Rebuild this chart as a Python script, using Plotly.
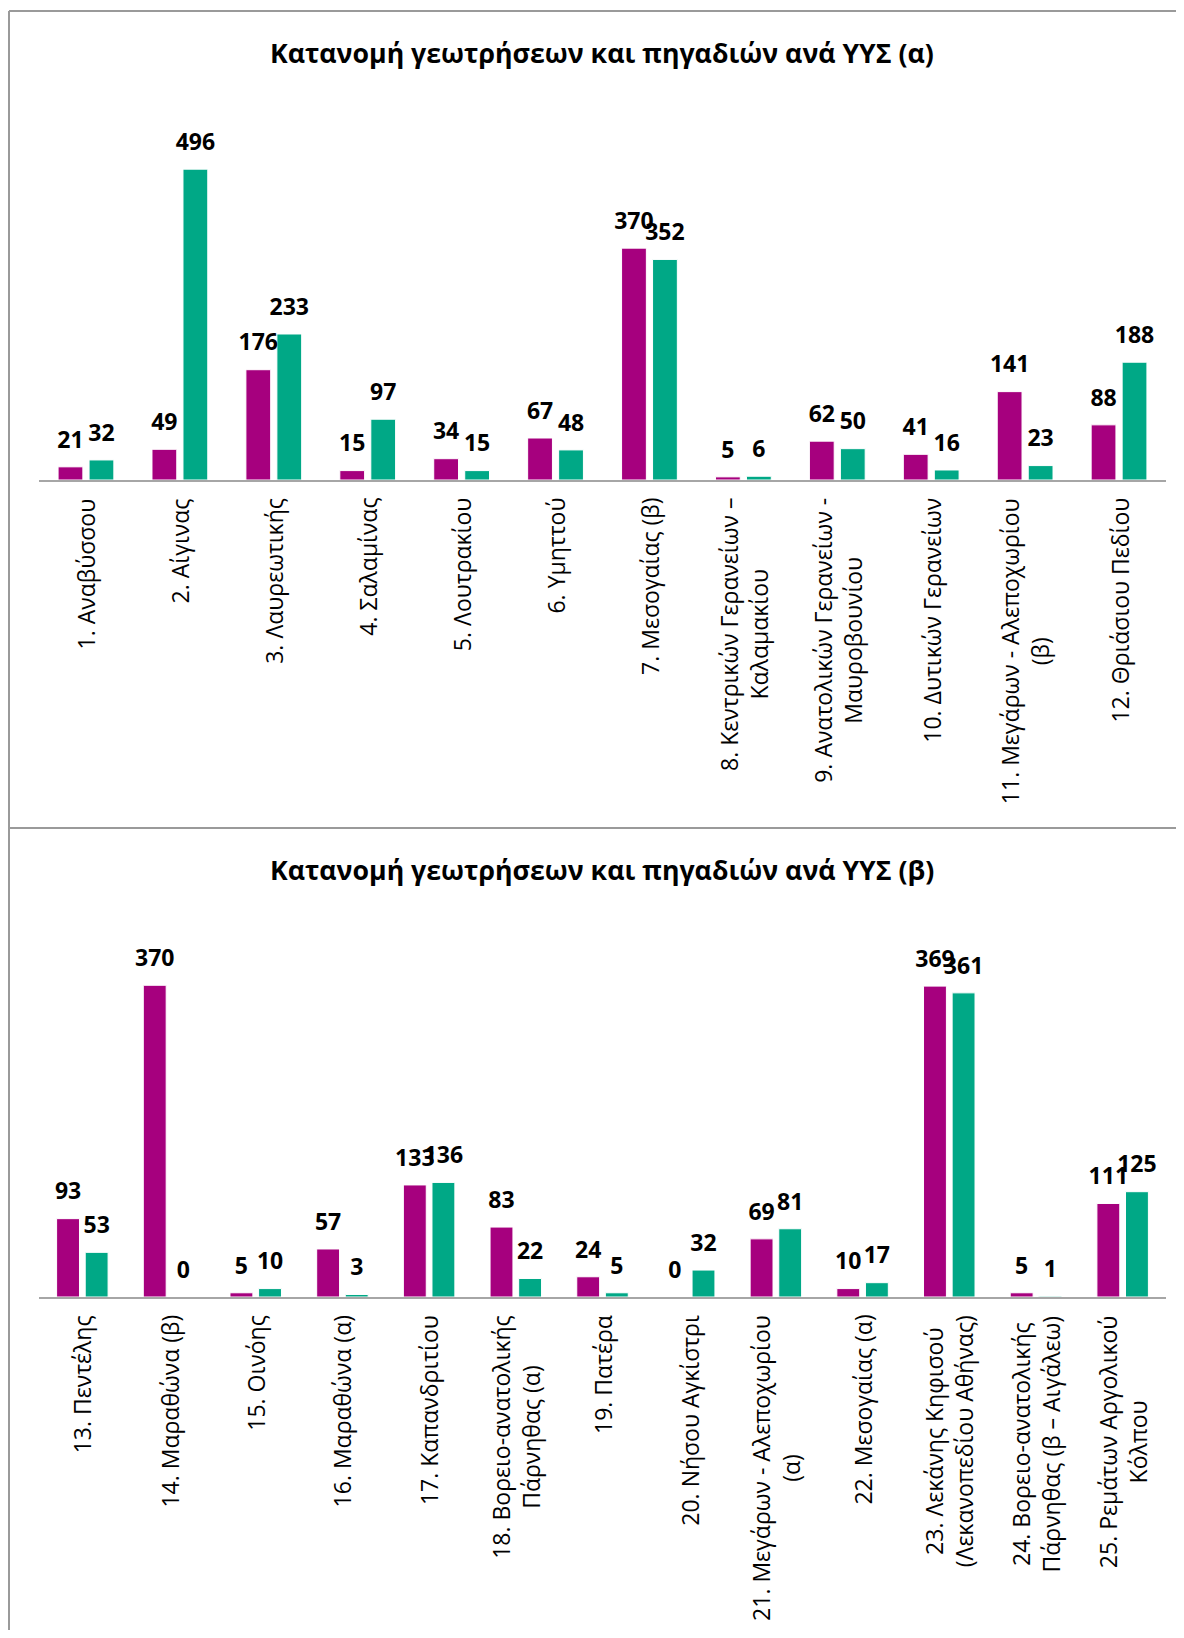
import plotly.graph_objects as go

# page body has an 8px margin, so the figure is placed at (8, 8) on the page
OFF = 8
W, H = 1176, 1622

# panel (α)
cats_a = [
    "1. Αναβύσσου", "2. Αίγινας", "3. Λαυρεωτικής", "4. Σαλαμίνας",
    "5. Λουτρακίου", "6. Υμηττού", "7. Μεσογαίας (β)",
    "8. Κεντρικών Γερανείων –<br>Καλαμακίου",
    "9. Ανατολικών Γερανείων -<br>Μαυροβουνίου",
    "10. Δυτικών Γερανείων", "11. Μεγάρων - Αλεποχωρίου<br>(β)",
    "12. Θριάσιου Πεδίου",
]
geotriseis_a = [21, 49, 176, 15, 34, 67, 370, 5, 62, 41, 141, 88]
pigadia_a = [32, 496, 233, 97, 15, 48, 352, 6, 50, 16, 23, 188]

# panel (β)
cats_b = [
    "13. Πεντέλης", "14. Μαραθώνα (β)", "15. Οινόης", "16. Μαραθώνα (α)",
    "17. Καπανδριτίου", "18. Βορειο-ανατολικής<br>Πάρνηθας (α)",
    "19. Πατέρα", "20. Νήσου Αγκίστρι",
    "21. Μεγάρων - Αλεποχωρίου<br>(α)", "22. Μεσογαίας (α)",
    "23. Λεκάνης Κηφισού<br>(Λεκανοπεδίου Αθήνας)",
    "24. Βορειο-ανατολικής<br>Πάρνηθας (β – Αιγάλεω)",
    "25. Ρεμάτων Αργολικού<br>Κόλπου",
]
geotriseis_b = [93, 370, 5, 57, 133, 83, 24, 0, 69, 10, 369, 5, 111]
pigadia_b = [53, 0, 10, 3, 136, 22, 5, 32, 81, 17, 361, 1, 125]

titles = ["Κατανομή γεωτρήσεων και πηγαδιών ανά ΥΥΣ (α)",
          "Κατανομή γεωτρήσεων και πηγαδιών ανά ΥΥΣ (β)"]

MAGENTA = "#A6007E"
GREEN = "#00A886"
GAP = 0.34


def px(x):
    # page pixel -> paper fraction
    return (x - OFF) / W


def py(y):
    return 1 - (y - OFF) / H


fig = go.Figure()

panels = [
    (cats_a, geotriseis_a, pigadia_a, "x", "y"),
    (cats_b, geotriseis_b, pigadia_b, "x2", "y2"),
]
for cats, g, p, xa, ya in panels:
    for vals, col in [(g, MAGENTA), (p, GREEN)]:
        fig.add_trace(go.Bar(
            x=cats, y=vals, xaxis=xa, yaxis=ya,
            marker=dict(color=col, line=dict(color="white", width=1)),
            showlegend=False, hoverinfo="skip",
        ))
    # value labels, grouped the same way as the bars
    for vals in (g, p):
        fig.add_trace(go.Scatter(
            x=cats, y=vals, xaxis=xa, yaxis=ya,
            mode="markers+text", text=[str(v) for v in vals],
            textposition="top center",
            textfont=dict(family="Open Sans", size=23, color="black", weight="bold"),
            marker=dict(size=20, opacity=0),
            cliponaxis=False, showlegend=False, hoverinfo="skip",
        ))

xdom = [px(39), px(1166)]
axis_x = dict(domain=xdom, showline=True, linecolor="#a6a6a6", linewidth=2,
              showticklabels=False, ticks="", showgrid=False, zeroline=False,
              fixedrange=True)
axis_y = dict(visible=False, showgrid=False, zeroline=False, fixedrange=True)

fig.update_layout(
    width=W, height=H,
    margin=dict(l=0, r=0, t=0, b=0),
    paper_bgcolor="white", plot_bgcolor="white",
    barmode="group", bargap=GAP, bargroupgap=0.2,
    scattermode="group", scattergap=GAP,
    xaxis=dict(axis_x, anchor="y"),
    yaxis=dict(axis_y, domain=[py(480), py(104)], range=[0, 600], anchor="x"),
    xaxis2=dict(axis_x, anchor="y2"),
    yaxis2=dict(axis_y, domain=[py(1297), py(960)], range=[0, 400], anchor="x2"),
)

# frame lines of the two chart boxes
border = dict(color="#9a9a9a", width=2)
fig.add_shape(type="line", xref="paper", yref="paper",
              x0=px(9), x1=1.02, y0=py(11), y1=py(11), line=border)
fig.add_shape(type="line", xref="paper", yref="paper",
              x0=px(9), x1=1.02, y0=py(828), y1=py(828), line=border)
fig.add_shape(type="line", xref="paper", yref="paper",
              x0=px(9), x1=px(9), y0=py(11), y1=-0.02, line=border)

# titles
for t, ty in zip(titles, [52, 869]):
    fig.add_annotation(
        text=t, xref="paper", yref="paper", x=px(602), y=py(ty),
        xanchor="center", yanchor="middle", showarrow=False,
        font=dict(family="Open Sans", size=26.7, color="black", weight="bold"),
    )

# category labels, rotated and centred under each group
for cats, xa, ya in [(cats_a, "x", "y domain"), (cats_b, "x2", "y2 domain")]:
    for c in cats:
        fig.add_annotation(
            text=c, x=c, xref=xa, y=0, yref=ya,
            xanchor="center", yanchor="top", yshift=-16,
            textangle=-90, align="center", showarrow=False,
            font=dict(family="Open Sans", size=23, color="black"),
        )

fig.write_html("out.html")
